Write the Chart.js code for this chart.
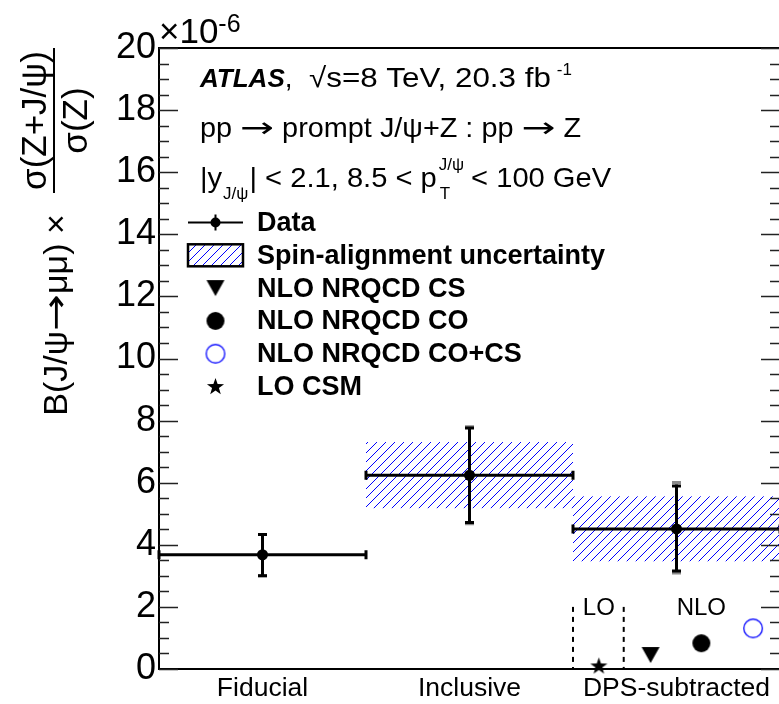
<!DOCTYPE html>
<html><head><meta charset="utf-8">
<script src="https://cdn.jsdelivr.net/npm/chart.js@4.4.1/dist/chart.umd.min.js"></script>
<style>
html,body{margin:0;padding:0;background:#fff;overflow:hidden;width:779px;height:704px}
#wrap{position:absolute;left:0;top:0;width:790px;height:704px}
</style>
</head><body><div id="wrap"><canvas id="c" width="790" height="704"></canvas></div>
<script>
// ---------------- data ----------------
const categories = ['Fiducial', 'Inclusive', 'DPS-subtracted'];
const binEdges = [0, 1, 2, 3];
const binCenters = [0.5, 1.5, 2.5];
const dataValues = [3.68, 6.24, 4.51];
const errHigh = [4.33, 7.76, 5.89];
const errLow = [3.00, 4.72, 3.16];
const errHighOuter = [4.33, 7.80, 6.01];
const errLowOuter = [3.00, 4.68, 3.09];
const spinLow = [null, 5.18, 3.47];
const spinHigh = [null, 7.31, 5.56];
const theoryLabels = ['LO CSM', 'NLO NRQCD CS', 'NLO NRQCD CO', 'NLO NRQCD CO+CS'];
const theoryX = [2.125, 2.375, 2.62, 2.87];
const theoryValues = [0.10, 0.45, 0.83, 1.31];
const loBoxEdges = [2.0, 2.245];
const loBoxTop = 2.0;
const orderLabels = ['LO', 'NLO'];
const orderLabelX = [2.125, 2.62];
const orderLabelY = 1.74;
const yMajorTicks = [0, 2, 4, 6, 8, 10, 12, 14, 16, 18, 20];
const yMinorStep = 0.5;
const legendLabels = ['Data', 'Spin-alignment uncertainty', 'NLO NRQCD CS', 'NLO NRQCD CO', 'NLO NRQCD CO+CS', 'LO CSM'];

// ---------------- style helpers ----------------
const FF = "'Liberation Sans', Arial, Helvetica, sans-serif";
const AF = "'DejaVu Sans', sans-serif";
Chart.defaults.font.family = FF;
Chart.defaults.color = '#000';
const BLUE = '#1a1aff';

function mk(w, h, fn) { const c = document.createElement('canvas'); c.width = w; c.height = h; fn(c.getContext('2d')); return c; }
const hatchTile = mk(9, 9, g => { g.strokeStyle = '#0000ff'; g.lineWidth = 1; g.beginPath(); g.moveTo(-1, 10); g.lineTo(10, -1); g.stroke(); });
const starImg = mk(19, 19, g => {
  g.fillStyle = '#000'; g.beginPath();
  for (let k = 0; k < 10; k++) { const r = k % 2 ? 3.6 : 9; const a = -Math.PI / 2 + k * Math.PI / 5; const px = 9.5 + r * Math.cos(a), py = 10 + r * Math.sin(a); k ? g.lineTo(px, py) : g.moveTo(px, py); }
  g.closePath(); g.fill();
});
const triImg = mk(20, 18, g => { g.fillStyle = '#000'; g.beginPath(); g.moveTo(1, 1); g.lineTo(19, 1); g.lineTo(10, 17); g.closePath(); g.fill(); });
const dotImg = mk(20, 20, g => { g.fillStyle = '#000'; g.beginPath(); g.arc(10, 10, 9, 0, 2 * Math.PI); g.fill(); });
const openImg = mk(22, 22, g => { g.strokeStyle = BLUE; g.lineWidth = 1.4; g.beginPath(); g.arc(11, 11, 9.3, 0, 2 * Math.PI); g.stroke(); });
const theoryImgs = [starImg, triImg, dotImg, openImg];

// parts: [text, font, dy, scaleX]
function runText(ctx, x, y, parts, measureOnly) {
  for (const [t, f, dy, sx0] of parts) {
    const sx = sx0 || 1;
    ctx.font = f;
    const w = ctx.measureText(t).width * sx;
    if (!measureOnly) {
      ctx.save(); ctx.translate(x, y + (dy || 0)); ctx.scale(sx, 1); ctx.fillText(t, 0, 0); ctx.restore();
    }
    x += w;
  }
  return x;
}

// ---------------- plugin drawing ROOT-style decorations ----------------
const rootPlugin = {
  id: 'rootStyle',
  beforeDatasetsDraw(chart) {
    const { ctx, scales: { x, y } } = chart;
    ctx.save();
    const pat = ctx.createPattern(hatchTile, 'repeat');
    for (let i = 0; i < categories.length; i++) {
      if (spinLow[i] == null) continue;
      const x0 = x.getPixelForValue(binEdges[i]), x1 = x.getPixelForValue(binEdges[i + 1]);
      const y0 = y.getPixelForValue(spinHigh[i]), y1 = y.getPixelForValue(spinLow[i]);
      ctx.fillStyle = pat; ctx.fillRect(x0, y0, x1 - x0, y1 - y0);
    }
    // LO dashed box
    ctx.strokeStyle = '#000'; ctx.lineWidth = 2; ctx.setLineDash([5, 5]);
    loBoxEdges.forEach(v => { const px = x.getPixelForValue(v); ctx.beginPath(); ctx.moveTo(px, y.getPixelForValue(loBoxTop)); ctx.lineTo(px, y.getPixelForValue(0)); ctx.stroke(); });
    ctx.setLineDash([]);
    ctx.fillStyle = '#000'; ctx.font = '24px ' + FF; ctx.textAlign = 'center'; ctx.textBaseline = 'alphabetic';
    orderLabels.forEach((t, i) => ctx.fillText(t, x.getPixelForValue(orderLabelX[i]), y.getPixelForValue(orderLabelY)));
    // error bars: outer (grey) then inner (black)
    const drawErr = (hi, lo, col, capHalf) => {
      ctx.strokeStyle = col; ctx.lineWidth = 3;
      for (let i = 0; i < categories.length; i++) {
        const cx = x.getPixelForValue(binCenters[i]);
        const yh = y.getPixelForValue(hi[i]), yl = y.getPixelForValue(lo[i]);
        ctx.beginPath(); ctx.moveTo(cx, yh); ctx.lineTo(cx, yl);
        ctx.moveTo(cx - capHalf, yh); ctx.lineTo(cx + capHalf, yh);
        ctx.moveTo(cx - capHalf, yl); ctx.lineTo(cx + capHalf, yl); ctx.stroke();
      }
    };
    drawErr(errHighOuter, errLowOuter, '#8a8a8a', 4.5);
    drawErr(errHigh, errLow, '#000', 4.5);
    ctx.strokeStyle = '#000'; ctx.lineWidth = 3;
    for (let i = 0; i < categories.length; i++) {
      const x0 = x.getPixelForValue(binEdges[i]), x1 = x.getPixelForValue(binEdges[i + 1]);
      const py = y.getPixelForValue(dataValues[i]);
      ctx.beginPath(); ctx.moveTo(x0, py); ctx.lineTo(x1, py);
      ctx.moveTo(x0, py - 4.5); ctx.lineTo(x0, py + 4.5);
      ctx.moveTo(x1, py - 4.5); ctx.lineTo(x1, py + 4.5); ctx.stroke();
    }
    ctx.restore();
  },
  afterDraw(chart) {
    const { ctx, scales: { x, y }, chartArea: a } = chart;
    ctx.save();
    ctx.strokeStyle = '#000';
    // frame
    ctx.lineWidth = 2;
    ctx.beginPath(); ctx.moveTo(a.left - 1, a.top); ctx.lineTo(a.right, a.top); ctx.lineTo(a.right, a.bottom); ctx.stroke();
    // inward ticks on left and right
    ctx.lineWidth = 1.3; ctx.strokeStyle = '#222';
    const yMin = yMajorTicks[0], yMax = yMajorTicks[yMajorTicks.length - 1];
    for (let v = yMin; v <= yMax + 1e-9; v += yMinorStep) {
      const major = yMajorTicks.some(t => Math.abs(t - v) < 1e-9);
      const len = major ? 19 : 10;
      const py = Math.round(y.getPixelForValue(v)) + 0.5;
      ctx.beginPath(); ctx.moveTo(a.left, py); ctx.lineTo(a.left + len, py);
      ctx.moveTo(a.right, py); ctx.lineTo(a.right - len, py); ctx.stroke();
    }
    ctx.fillStyle = '#000'; ctx.textAlign = 'left'; ctx.textBaseline = 'alphabetic';
    // exponent
    runText(ctx, 159, 43, [['\u00d710', '35px ' + FF], ['-6', '25px ' + FF, -11]]);
    // header lines
    const R = '28px ' + FF, S = '17px ' + FF, AR = '28px ' + AF;
    runText(ctx, 200, 87, [['ATLAS', 'italic bold 26px ' + FF], [',', R]]);
    let xe = runText(ctx, 309, 87, [['\u221as=8 TeV, 20.3 fb', R, 0, 1.12]]);
    runText(ctx, xe + 6, 87, [['-1', S, -12]]);
    runText(ctx, 200, 137, [['pp ', R, 0, 1.03], ['\u2192', AR, 0, 1.45], [' prompt J/\u03c8+Z : pp ', R, 0, 1.03], ['\u2192', AR, 0, 1.45], [' Z', R, 0, 1.03]]);
    xe = runText(ctx, 200, 187, [['|y', R, 0, 1.04]]);
    xe = runText(ctx, xe + 1, 187, [['J/\u03c8', S, 12]]);
    xe = runText(ctx, xe + 1, 187, [['| < 2.1, 8.5 < p', R, 0, 1.04]]);
    ctx.font = S; const wS = ctx.measureText('J/\u03c8').width;
    ctx.fillText('J/\u03c8', xe + 2, 187 - 17);
    ctx.fillText('T', xe + 3, 187 + 12);
    runText(ctx, xe + wS + 9, 187, [['< 100 GeV', R, 0, 1.04]]);
    // legend
    const LX = 188, LW = 55, TX = 257, LY0 = 222.5, LDY = 32.8;
    ctx.font = 'bold 27px ' + FF; ctx.textBaseline = 'middle';
    legendLabels.forEach((t, i) => ctx.fillText(t, TX, LY0 + i * LDY + 1));
    // data symbol
    ctx.strokeStyle = '#000'; ctx.lineWidth = 2;
    ctx.beginPath(); ctx.moveTo(LX, LY0); ctx.lineTo(LX + LW, LY0); ctx.moveTo(LX + LW / 2, LY0 - 8); ctx.lineTo(LX + LW / 2, LY0 + 8); ctx.stroke();
    ctx.beginPath(); ctx.arc(LX + LW / 2, LY0, 5, 0, 2 * Math.PI); ctx.fill();
    // spin box
    const by = LY0 + LDY;
    ctx.fillStyle = ctx.createPattern(hatchTile, 'repeat'); ctx.fillRect(LX, by - 11, LW, 22);
    ctx.lineWidth = 2.5; ctx.strokeRect(LX, by - 11, LW, 22);
    ctx.fillStyle = '#000';
    // theory markers in legend order: CS, CO, CO+CS, LO CSM
    [triImg, dotImg, openImg, starImg].forEach((img, k) => {
      const cy = LY0 + (k + 2) * LDY;
      ctx.drawImage(img, LX + LW / 2 - img.width / 2, cy - img.height / 2);
    });
    // y axis title (rotated)
    ctx.translate(54, 0); ctx.rotate(-Math.PI / 2);
    ctx.textBaseline = 'alphabetic'; ctx.textAlign = 'left';
    const T = '34px ' + FF;
    const titleParts = [['B(J/\u03c8', T], ['\u2192', '34px ' + AF, 0, 1.3], ['\u03bc\u03bc) \u00d7', T]];
    const tw = runText(ctx, 0, 0, titleParts, true);
    runText(ctx, -315 - tw / 2, 13, titleParts);
    ctx.textAlign = 'center'; ctx.font = '35px ' + FF;
    ctx.fillText('\u03c3(Z+J/\u03c8)', -120.5, -8);
    ctx.fillText('\u03c3(Z)', -120.5, 33);
    ctx.lineWidth = 2; ctx.beginPath(); ctx.moveTo(-193, 0); ctx.lineTo(-48, 0); ctx.stroke();
    ctx.restore();
  }
};

// ---------------- chart ----------------
const ctx = document.getElementById('c').getContext('2d');
new Chart(ctx, {
  type: 'scatter',
  data: {
    datasets: [
      {
        label: 'Data',
        data: binCenters.map((v, i) => ({ x: v, y: dataValues[i] })),
        pointStyle: 'circle', pointRadius: 5.5, backgroundColor: '#000', borderColor: '#000', borderWidth: 0
      },
      ...theoryLabels.map((lab, i) => ({
        label: lab,
        data: [{ x: theoryX[i], y: theoryValues[i] }],
        pointStyle: theoryImgs[i], pointRadius: 9, clip: false
      }))
    ]
  },
  options: {
    responsive: false, animation: false,
    layout: { padding: { top: 48, right: 7, left: 0, bottom: 0 } },
    plugins: { legend: { display: false }, tooltip: { enabled: false } },
    scales: {
      x: {
        type: 'linear', min: binEdges[0], max: binEdges[binEdges.length - 1],
        afterBuildTicks: s => { s.ticks = binCenters.map(v => ({ value: v })); },
        afterFit: s => { s.height = 35; },
        ticks: { callback: (v, i) => categories[i], font: { size: 26.5 }, color: '#000', padding: 4, maxRotation: 0, autoSkip: false },
        grid: { display: false, drawTicks: false },
        border: { display: true, color: '#000', width: 2 }
      },
      y: {
        min: yMajorTicks[0], max: yMajorTicks[yMajorTicks.length - 1],
        afterBuildTicks: s => { s.ticks = yMajorTicks.map(v => ({ value: v })); },
        afterFit: s => { s.width = 159; },
        ticks: { font: { size: 36 }, color: '#000', padding: 3 },
        grid: { display: false, drawTicks: false },
        border: { display: true, color: '#000', width: 2 }
      }
    }
  },
  plugins: [rootPlugin]
});
</script>
</body></html>
